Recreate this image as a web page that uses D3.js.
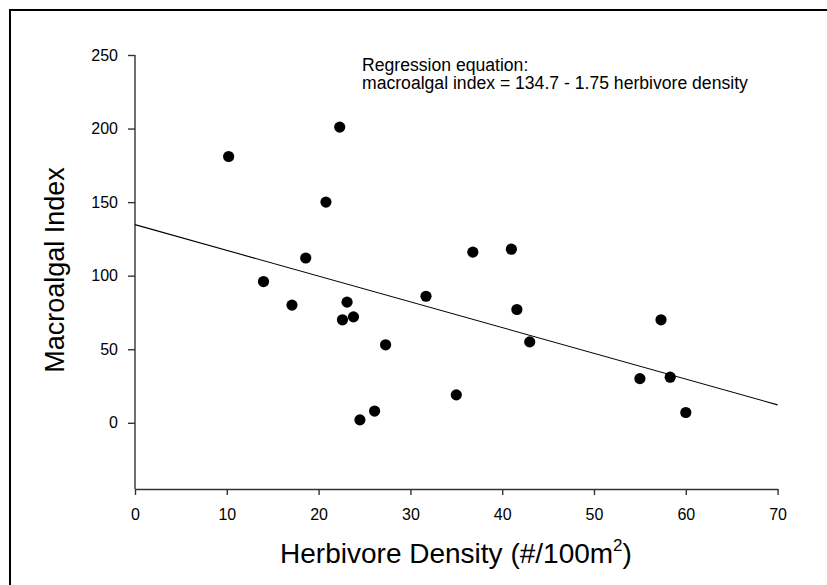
<!DOCTYPE html>
<html>
<head>
<meta charset="utf-8">
<script src="https://cdn.jsdelivr.net/npm/d3@7/dist/d3.min.js"></script>
<style>
  html, body { margin: 0; padding: 0; background: #fff; }
  svg { display: block; }
  text { font-family: "Liberation Sans", Arial, sans-serif; fill: #000; }
</style>
</head>
<body>
<svg id="chart" width="827" height="585"></svg>
<script>
// ---- data ----
const herbivoreDensity = [10.2, 14.0, 17.1, 18.6, 20.8, 22.3, 22.6, 23.1, 23.8, 24.5, 26.1, 27.3,
                          31.7, 35.0, 36.8, 41.0, 41.6, 43.0, 55.0, 57.3, 58.3, 60.0];
const macroalgalIndex  = [181, 96, 80, 112, 150, 201, 70, 82, 72, 2, 8, 53,
                          86, 19, 116, 118, 77, 55, 30, 70, 31, 7];
const xTicks = [0, 10, 20, 30, 40, 50, 60, 70];
const yTicks = [0, 50, 100, 150, 200, 250];
const intercept = 134.7;
const slope = -1.75;
const xDomain = [0, 70];
const yDomain = [-45, 250];

(function () {
// ---- layout ----
const svg = d3.select("#chart");
const mLeft = 135, mRight = 777.6, mTop = 55, mBottom = 489;

const x = d3.scaleLinear().domain(xDomain).range([mLeft, mRight]);
const y = d3.scaleLinear().domain(yDomain).range([mBottom, mTop]);

// outer frame (only top & left visible)
svg.append("rect")
  .attr("x", 10).attr("y", 10).attr("width", 840).attr("height", 600)
  .attr("fill", "none").attr("stroke", "#000").attr("stroke-width", 2);

// axes
const axisColor = "#333";
const yAxis = svg.append("g").attr("transform", `translate(${mLeft},0)`)
  .call(d3.axisLeft(y).tickValues(yTicks).tickSize(7).tickPadding(10).tickSizeOuter(0));
const xAxis = svg.append("g").attr("transform", `translate(0,${mBottom})`)
  .call(d3.axisBottom(x).tickValues(xTicks).tickSize(6).tickPadding(14).tickSizeOuter(0));
[xAxis, yAxis].forEach(g => {
  g.select(".domain").attr("stroke", axisColor).attr("stroke-width", 1.4);
  g.selectAll(".tick line").attr("stroke", axisColor).attr("stroke-width", 1.4);
  g.selectAll(".tick text").attr("font-size", 16).attr("font-family", "Liberation Sans, Arial, sans-serif")
    .attr("fill", "#000");
});
yAxis.select(".domain").attr("d", `M0,${mTop}V${mBottom}`);

// regression line
svg.append("line")
  .attr("x1", x(xDomain[0])).attr("y1", y(intercept + slope * xDomain[0]))
  .attr("x2", x(xDomain[1])).attr("y2", y(intercept + slope * xDomain[1]))
  .attr("stroke", "#000").attr("stroke-width", 1.1);

// points
svg.append("g").selectAll("circle")
  .data(herbivoreDensity.map((d, i) => [d, macroalgalIndex[i]]))
  .join("circle")
  .attr("cx", d => x(d[0])).attr("cy", d => y(d[1]))
  .attr("r", 5.6).attr("fill", "#000");

// annotation
const ann = svg.append("text").attr("font-size", 17.6);
ann.append("tspan").attr("x", 362).attr("y", 70.5).text("Regression equation:");
ann.append("tspan").attr("x", 362).attr("y", 89).text("macroalgal index = 134.7 - 1.75 herbivore density");

// axis titles
const xt = svg.append("text").attr("x", 456).attr("y", 563)
  .attr("text-anchor", "middle").attr("font-size", 28);
xt.append("tspan").text("Herbivore Density (#/100m");
xt.append("tspan").attr("font-size", 17).attr("dy", -12).text("2");
xt.append("tspan").attr("dy", 12).text(")");

svg.append("text")
  .attr("transform", `translate(64,270) rotate(-90)`)
  .attr("text-anchor", "middle").attr("font-size", 27)
  .text("Macroalgal Index");
})();
</script>
</body>
</html>
